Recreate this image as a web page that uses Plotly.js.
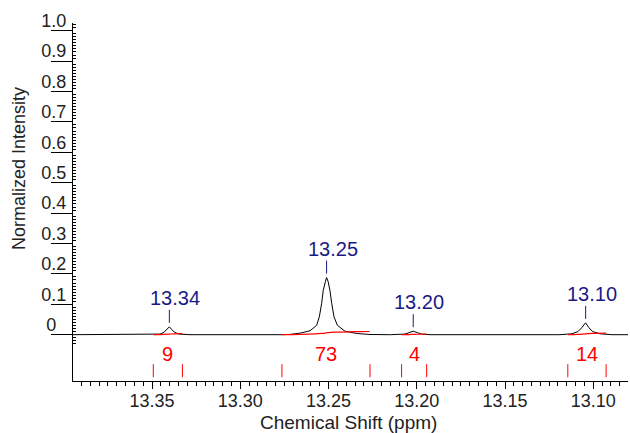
<!DOCTYPE html>
<html>
<head>
<meta charset="utf-8">
<script src="https://cdn.plot.ly/plotly-3.0.1.min.js"></script>
<style>html,body{margin:0;padding:0;background:#fff;}#chart{width:630px;height:433px;}</style>
</head>
<body>
<div id="chart"></div>
<script>
// ---- spectrum ----
const shiftPpm = [13.396, 13.3511, 13.3455, 13.3432, 13.3415, 13.3402, 13.3390, 13.3373, 13.3347, 13.3285,
  13.2769, 13.2718, 13.2662, 13.2605, 13.2567, 13.2552, 13.2539, 13.2530, 13.2517, 13.2511, 13.2503, 13.2492,
  13.2482, 13.2469, 13.2450, 13.2407, 13.2340, 13.2265, 13.2150,
  13.2106, 13.2067, 13.2044, 13.2020, 13.1996, 13.1973, 13.1925,
  13.1189, 13.1121, 13.1087, 13.1065, 13.1043, 13.1025, 13.1002, 13.0962, 13.0894, 13.079];
const intensity = [0, 0, 0.002, 0.008, 0.018, 0.026, 0.018, 0.008, 0.002, 0,
  0, 0.001, 0.005, 0.013, 0.031, 0.059, 0.103, 0.146, 0.176, 0.188, 0.176, 0.146,
  0.103, 0.059, 0.031, 0.0115, 0.004, 0.0007, 0,
  0, 0.002, 0.0066, 0.0115, 0.0066, 0.002, 0,
  0, 0.003, 0.010, 0.023, 0.039, 0.023, 0.010, 0.003, 0, 0];

// ---- peak picking ----
const peakPpm = [13.3402, 13.2511, 13.2020, 13.1043];
const peakHeight = [0.026, 0.188, 0.0115, 0.039];
const peakLabels = ["13.34", "13.25", "13.20", "13.10"];

// ---- integrals ----
const intStart = [13.3493, 13.2764, 13.2086, 13.1144];
const intEnd = [13.3328, 13.2265, 13.1944, 13.0927];
const intValues = ["9", "73", "4", "14"];
const int1Ppm = [13.3493, 13.3432, 13.3402, 13.3373, 13.3328];
const int1Val = [0, 0.001, 0.002, 0.003, 0.0035];
const int2Ppm = [13.2765, 13.2662, 13.2577, 13.2537, 13.2511, 13.2486, 13.2435, 13.2350, 13.2267];
const int2Val = [0, 0.001, 0.0026, 0.0043, 0.006, 0.0076, 0.0086, 0.0099, 0.0105];
const int3Ppm = [13.2086, 13.2044, 13.2020, 13.1996, 13.1944];
const int3Val = [0, 0.0005, 0.001, 0.0015, 0.0018];
const int4Ppm = [13.1144, 13.1087, 13.1043, 13.1002, 13.0927];
const int4Val = [0, 0.001, 0.003, 0.0045, 0.005];

// ---- axis ticks ----
const xTickVals = [13.35, 13.30, 13.25, 13.20, 13.15, 13.10];
const xTickText = ["13.35", "13.30", "13.25", "13.20", "13.15", "13.10"];
const yTickVals = [0, 0.1, 0.2, 0.3, 0.4, 0.5, 0.6, 0.7, 0.8, 0.9, 1.0];
const yTickText = ["0\u2007", "0.1", "0.2", "0.3", "0.4", "0.5", "0.6", "0.7", "0.8", "0.9", "1.0"];

const FONT = "Liberation Sans, Arial, sans-serif";
const NAVY = "#1a1a86";
const RED = "#ff0000";

const yMinor = [];
for (let i = -3; i <= 102; i++) { if (i % 10 !== 0) yMinor.push(i / 100); }

const traces = [
  {x: shiftPpm, y: intensity, type: "scatter", mode: "lines",
   line: {color: "#000", width: 1}, hoverinfo: "skip"}
];
[[int1Ppm, int1Val], [int2Ppm, int2Val], [int3Ppm, int3Val], [int4Ppm, int4Val]].forEach(p => {
  traces.push({x: p[0], y: p[1], type: "scatter", mode: "lines",
    line: {color: RED, width: 1.2, shape: "spline"}, hoverinfo: "skip"});
});

const shapes = [];
const annotations = [];
peakPpm.forEach((p, i) => {
  shapes.push({type: "line", xref: "x", yref: "y", ysizemode: "pixel", yanchor: peakHeight[i],
    x0: p, x1: p, y0: 4, y1: 17, line: {color: NAVY, width: 1}});
  annotations.push({x: p, y: peakHeight[i], xref: "x", yref: "y", text: peakLabels[i],
    showarrow: false, yanchor: "middle", xanchor: "center", yshift: 29, xshift: 6,
    font: {family: FONT, size: 20, color: NAVY}});
});
intStart.forEach((s, i) => {
  [s, intEnd[i]].forEach(e => shapes.push({type: "line", xref: "x", yref: "y",
    x0: e, x1: e, y0: -0.097, y1: -0.140, line: {color: RED, width: 1}}));
  annotations.push({x: (s + intEnd[i]) / 2, y: -0.065, xref: "x", yref: "y", text: intValues[i],
    showarrow: false, xanchor: "center", yanchor: "middle",
    font: {family: FONT, size: 20, color: RED}});
});
annotations.push({xref: "paper", yref: "paper", x: -0.0973, y: 0.595, text: "Normalized Intensity",
  textangle: -90, showarrow: false, xanchor: "center", yanchor: "middle",
  font: {family: FONT, size: 18, color: "#222"}});
annotations.push({xref: "paper", yref: "paper", x: 0.497, y: -0.116, text: "Chemical Shift (ppm)",
  showarrow: false, xanchor: "center", yanchor: "middle",
  font: {family: FONT, size: 19, color: "#222"}});

const layout = {
  width: 630, height: 433,
  margin: {l: 73, r: 2, t: 23, b: 52},
  paper_bgcolor: "#fff", plot_bgcolor: "#fff",
  showlegend: false,
  font: {family: FONT, color: "#222"},
  xaxis: {
    range: [13.3948, 13.0803], showgrid: false, zeroline: false,
    showline: true, linecolor: "#000", linewidth: 1,
    ticks: "outside", ticklen: 7, tickcolor: "#000", tickwidth: 1,
    tickmode: "array", tickvals: xTickVals, ticktext: xTickText,
    ticklabelstandoff: -4,
    tickfont: {family: FONT, size: 18, color: "#222"},
    minor: {dtick: 0.005, tick0: 13.1, ticks: "outside", ticklen: 4, tickcolor: "#000", tickwidth: 1, showgrid: false}
  },
  yaxis: {
    range: [-0.1523, 1.0253], showgrid: false, zeroline: false,
    showline: true, linecolor: "#000", linewidth: 1,
    ticks: "outside", ticklen: 21, tickcolor: "#000", tickwidth: 1,
    tickmode: "array", tickvals: yTickVals, ticktext: yTickText,
    ticklabelshift: -10, ticklabelstandoff: -19,
    tickfont: {family: FONT, size: 18, color: "#222"},
    minor: {tickmode: "array", tickvals: yMinor, ticks: "inside", ticklen: 3, tickcolor: "#000", tickwidth: 1, showgrid: false}
  },
  shapes: shapes,
  annotations: annotations
};

Plotly.newPlot("chart", traces, layout, {staticPlot: true, displayModeBar: false});
</script>
</body>
</html>
